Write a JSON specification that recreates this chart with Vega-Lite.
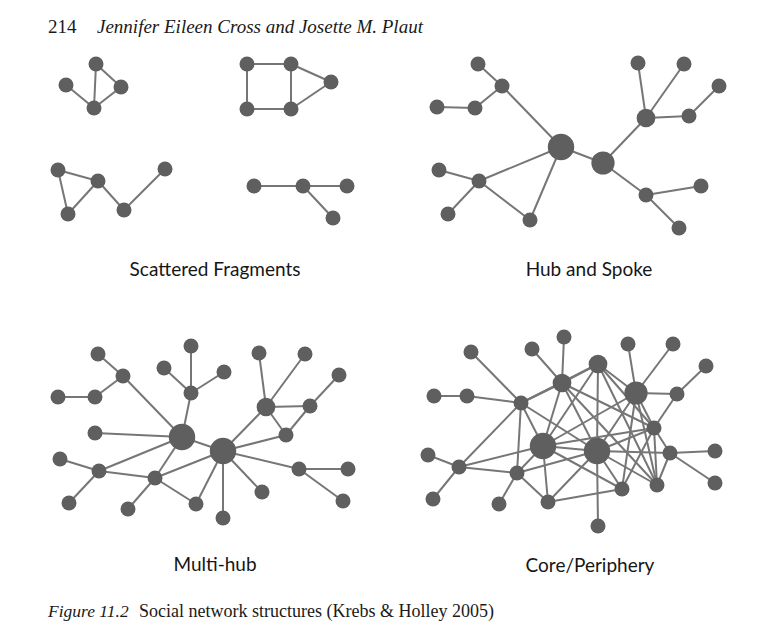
{
  "$schema": "https://vega.github.io/schema/vega-lite/v6.json",
  "width": 768,
  "height": 644,
  "autosize": {"type": "fit", "contains": "padding"},
  "padding": 0,
  "background": "white",
  "config": {"view": {"stroke": null}},
  "datasets": {
    "nodes": [
      {"id": "F1a", "x": 96, "y": 64, "tier": "node"},
      {"id": "F1b", "x": 66, "y": 85, "tier": "node"},
      {"id": "F1c", "x": 121, "y": 87, "tier": "node"},
      {"id": "F1d", "x": 94, "y": 108, "tier": "node"},
      {"id": "F2a", "x": 247, "y": 64, "tier": "node"},
      {"id": "F2b", "x": 291, "y": 64, "tier": "node"},
      {"id": "F2c", "x": 331, "y": 82, "tier": "node"},
      {"id": "F2d", "x": 247, "y": 109, "tier": "node"},
      {"id": "F2e", "x": 291, "y": 109, "tier": "node"},
      {"id": "F3a", "x": 58, "y": 170, "tier": "node"},
      {"id": "F3b", "x": 98, "y": 181, "tier": "node"},
      {"id": "F3c", "x": 68, "y": 214, "tier": "node"},
      {"id": "F3d", "x": 124, "y": 210, "tier": "node"},
      {"id": "F3e", "x": 165, "y": 169, "tier": "node"},
      {"id": "F4a", "x": 254, "y": 186, "tier": "node"},
      {"id": "F4b", "x": 303, "y": 186, "tier": "node"},
      {"id": "F4c", "x": 347, "y": 186, "tier": "node"},
      {"id": "F4d", "x": 333, "y": 218, "tier": "node"},

      {"id": "H1", "x": 561, "y": 147, "tier": "hub"},
      {"id": "H2", "x": 603, "y": 163, "tier": "hub2"},
      {"id": "Ha", "x": 478, "y": 64, "tier": "node"},
      {"id": "Hb", "x": 502, "y": 86, "tier": "node"},
      {"id": "Hc", "x": 437, "y": 107, "tier": "node"},
      {"id": "Hd", "x": 475, "y": 108, "tier": "node"},
      {"id": "He", "x": 439, "y": 170, "tier": "node"},
      {"id": "Hf", "x": 479, "y": 181, "tier": "node"},
      {"id": "Hg", "x": 448, "y": 214, "tier": "node"},
      {"id": "Hh", "x": 530, "y": 220, "tier": "node"},
      {"id": "Hi", "x": 638, "y": 63, "tier": "node"},
      {"id": "Hj", "x": 684, "y": 64, "tier": "node"},
      {"id": "Hk", "x": 719, "y": 86, "tier": "node"},
      {"id": "Hl", "x": 646, "y": 118, "tier": "mid"},
      {"id": "Hm", "x": 689, "y": 116, "tier": "node"},
      {"id": "Hn", "x": 646, "y": 195, "tier": "node"},
      {"id": "Ho", "x": 701, "y": 186, "tier": "node"},
      {"id": "Hp", "x": 679, "y": 228, "tier": "node"},

      {"id": "MH1", "x": 182, "y": 437, "tier": "hub"},
      {"id": "MH2", "x": 223, "y": 451, "tier": "hub"},
      {"id": "Ma", "x": 98, "y": 354, "tier": "node"},
      {"id": "Mb", "x": 123, "y": 376, "tier": "node"},
      {"id": "Mc", "x": 58, "y": 397, "tier": "node"},
      {"id": "Md", "x": 95, "y": 397, "tier": "node"},
      {"id": "Me", "x": 191, "y": 346, "tier": "node"},
      {"id": "Mf", "x": 164, "y": 368, "tier": "node"},
      {"id": "Mg", "x": 224, "y": 372, "tier": "node"},
      {"id": "Mh", "x": 191, "y": 393, "tier": "node"},
      {"id": "Mi", "x": 259, "y": 353, "tier": "node"},
      {"id": "Mj", "x": 305, "y": 354, "tier": "node"},
      {"id": "Mk", "x": 339, "y": 375, "tier": "node"},
      {"id": "Ml", "x": 266, "y": 407, "tier": "mid"},
      {"id": "Mm", "x": 310, "y": 406, "tier": "node"},
      {"id": "Mn", "x": 286, "y": 435, "tier": "node"},
      {"id": "Mo", "x": 95, "y": 433, "tier": "node"},
      {"id": "Mp", "x": 60, "y": 459, "tier": "node"},
      {"id": "Mq", "x": 99, "y": 471, "tier": "node"},
      {"id": "Mr", "x": 69, "y": 503, "tier": "node"},
      {"id": "Ms", "x": 155, "y": 478, "tier": "node"},
      {"id": "Mt", "x": 128, "y": 509, "tier": "node"},
      {"id": "Mu", "x": 196, "y": 504, "tier": "node"},
      {"id": "Mv", "x": 223, "y": 518, "tier": "node"},
      {"id": "Mw", "x": 262, "y": 492, "tier": "node"},
      {"id": "Mx", "x": 299, "y": 469, "tier": "node"},
      {"id": "My", "x": 348, "y": 469, "tier": "node"},
      {"id": "Mz", "x": 343, "y": 501, "tier": "node"},

      {"id": "C1", "x": 543, "y": 446, "tier": "hub"},
      {"id": "C2", "x": 597, "y": 451, "tier": "hub"},
      {"id": "C3", "x": 636, "y": 393, "tier": "hub2"},
      {"id": "C4", "x": 562, "y": 383, "tier": "mid"},
      {"id": "C5", "x": 598, "y": 364, "tier": "mid"},
      {"id": "CM1", "x": 521, "y": 403, "tier": "node"},
      {"id": "CM2", "x": 459, "y": 467, "tier": "node"},
      {"id": "CM3", "x": 517, "y": 473, "tier": "node"},
      {"id": "CM4", "x": 548, "y": 502, "tier": "node"},
      {"id": "CM5", "x": 622, "y": 489, "tier": "node"},
      {"id": "CM6", "x": 657, "y": 485, "tier": "node"},
      {"id": "CM7", "x": 654, "y": 428, "tier": "node"},
      {"id": "CM8", "x": 670, "y": 453, "tier": "node"},
      {"id": "CM9", "x": 677, "y": 394, "tier": "node"},
      {"id": "Cp1", "x": 471, "y": 352, "tier": "node"},
      {"id": "Cp2", "x": 532, "y": 349, "tier": "node"},
      {"id": "Cp3", "x": 564, "y": 337, "tier": "node"},
      {"id": "Cp4", "x": 628, "y": 344, "tier": "node"},
      {"id": "Cp5", "x": 673, "y": 344, "tier": "node"},
      {"id": "Cp6", "x": 706, "y": 366, "tier": "node"},
      {"id": "Cp7", "x": 434, "y": 396, "tier": "node"},
      {"id": "Cp8", "x": 467, "y": 396, "tier": "node"},
      {"id": "Cp9", "x": 428, "y": 455, "tier": "node"},
      {"id": "Cp10", "x": 433, "y": 499, "tier": "node"},
      {"id": "Cp11", "x": 499, "y": 504, "tier": "node"},
      {"id": "Cp12", "x": 598, "y": 526, "tier": "node"},
      {"id": "Cp13", "x": 715, "y": 451, "tier": "node"},
      {"id": "Cp14", "x": 715, "y": 483, "tier": "node"}
    ],
    "edges": [
      {"s": "F1a", "t": "F1d"}, {"s": "F1a", "t": "F1c"}, {"s": "F1c", "t": "F1d"}, {"s": "F1b", "t": "F1d"},
      {"s": "F2a", "t": "F2b"}, {"s": "F2a", "t": "F2d"}, {"s": "F2d", "t": "F2e"}, {"s": "F2b", "t": "F2e"},
      {"s": "F2b", "t": "F2c"}, {"s": "F2e", "t": "F2c"},
      {"s": "F3a", "t": "F3b"}, {"s": "F3a", "t": "F3c"}, {"s": "F3c", "t": "F3b"}, {"s": "F3b", "t": "F3d"},
      {"s": "F3d", "t": "F3e"},
      {"s": "F4a", "t": "F4b"}, {"s": "F4b", "t": "F4c"}, {"s": "F4b", "t": "F4d"},

      {"s": "Ha", "t": "Hb"}, {"s": "Hb", "t": "Hd"}, {"s": "Hc", "t": "Hd"}, {"s": "Hb", "t": "H1"},
      {"s": "H1", "t": "Hf"}, {"s": "H1", "t": "Hh"}, {"s": "Hf", "t": "He"}, {"s": "Hf", "t": "Hg"},
      {"s": "Hf", "t": "Hh"}, {"s": "H1", "t": "H2"}, {"s": "H2", "t": "Hl"}, {"s": "Hl", "t": "Hi"},
      {"s": "Hl", "t": "Hj"}, {"s": "Hl", "t": "Hm"}, {"s": "Hm", "t": "Hk"}, {"s": "H2", "t": "Hn"},
      {"s": "Hn", "t": "Ho"}, {"s": "Hn", "t": "Hp"},

      {"s": "Ma", "t": "Mb"}, {"s": "Mb", "t": "Md"}, {"s": "Mc", "t": "Md"}, {"s": "Mb", "t": "MH1"},
      {"s": "Me", "t": "Mh"}, {"s": "Mf", "t": "Mh"}, {"s": "Mg", "t": "Mh"}, {"s": "Mh", "t": "MH1"},
      {"s": "Mo", "t": "MH1"}, {"s": "MH1", "t": "Mq"}, {"s": "Mq", "t": "Mp"}, {"s": "Mq", "t": "Mr"},
      {"s": "Mq", "t": "Ms"}, {"s": "MH1", "t": "Ms"}, {"s": "Ms", "t": "Mt"}, {"s": "Ms", "t": "Mu"},
      {"s": "Ms", "t": "MH2"}, {"s": "MH1", "t": "MH2"}, {"s": "MH2", "t": "Mu"}, {"s": "MH2", "t": "Mv"},
      {"s": "MH2", "t": "Mw"}, {"s": "MH2", "t": "Mx"}, {"s": "Mx", "t": "My"}, {"s": "Mx", "t": "Mz"},
      {"s": "MH2", "t": "Ml"}, {"s": "MH2", "t": "Mn"}, {"s": "Ml", "t": "Mi"}, {"s": "Ml", "t": "Mj"},
      {"s": "Ml", "t": "Mm"}, {"s": "Mm", "t": "Mk"}, {"s": "Ml", "t": "Mn"}, {"s": "Mn", "t": "Mm"},

      {"s": "Cp1", "t": "CM1"}, {"s": "Cp7", "t": "Cp8"}, {"s": "Cp8", "t": "CM1"}, {"s": "Cp2", "t": "C4"},
      {"s": "Cp3", "t": "C4"}, {"s": "Cp4", "t": "C3"}, {"s": "Cp5", "t": "C3"}, {"s": "Cp6", "t": "CM9"},
      {"s": "CM9", "t": "C3"}, {"s": "Cp9", "t": "CM2"}, {"s": "Cp10", "t": "CM2"}, {"s": "CM2", "t": "CM1"},
      {"s": "CM2", "t": "C1"}, {"s": "CM2", "t": "CM3"}, {"s": "Cp11", "t": "CM3"}, {"s": "CM3", "t": "CM1"},
      {"s": "CM3", "t": "CM4"}, {"s": "CM3", "t": "C1"}, {"s": "CM3", "t": "C2"}, {"s": "CM4", "t": "C1"},
      {"s": "CM4", "t": "CM5"}, {"s": "CM4", "t": "C2"}, {"s": "CM1", "t": "C4"}, {"s": "CM1", "t": "C1"},
      {"s": "CM1", "t": "C2"}, {"s": "CM1", "t": "C5"}, {"s": "C4", "t": "C1"}, {"s": "C4", "t": "C5"},
      {"s": "C4", "t": "C2"}, {"s": "C4", "t": "CM7"}, {"s": "C4", "t": "CM6"}, {"s": "C5", "t": "C1"},
      {"s": "C5", "t": "C2"}, {"s": "C5", "t": "C3"}, {"s": "C5", "t": "CM7"}, {"s": "C5", "t": "CM6"},
      {"s": "C1", "t": "C2"}, {"s": "C1", "t": "C3"}, {"s": "C1", "t": "CM5"}, {"s": "C1", "t": "CM7"},
      {"s": "C2", "t": "C3"}, {"s": "C2", "t": "CM7"}, {"s": "C2", "t": "CM8"}, {"s": "C2", "t": "CM6"},
      {"s": "C2", "t": "CM5"}, {"s": "C2", "t": "Cp12"}, {"s": "C3", "t": "CM7"}, {"s": "C3", "t": "CM6"},
      {"s": "C3", "t": "CM5"}, {"s": "CM9", "t": "CM7"}, {"s": "CM7", "t": "CM6"}, {"s": "CM7", "t": "CM5"},
      {"s": "CM7", "t": "CM8"}, {"s": "CM8", "t": "Cp13"}, {"s": "CM8", "t": "Cp14"}, {"s": "CM8", "t": "CM6"}
    ],
    "labels": [
      {"text": "214", "x": 48, "y": 33, "kind": "serif"},
      {"text": "Jennifer Eileen Cross and Josette M. Plaut", "x": 97, "y": 33, "kind": "serifItalic"},
      {"text": "Scattered Fragments", "x": 215, "y": 270, "kind": "caption"},
      {"text": "Hub and Spoke", "x": 589, "y": 270, "kind": "caption"},
      {"text": "Multi-hub", "x": 215, "y": 565, "kind": "caption"},
      {"text": "Core/Periphery", "x": 590, "y": 566, "kind": "caption"},
      {"text": "Figure 11.2", "x": 48, "y": 617, "kind": "footItalic"},
      {"text": "Social network structures (Krebs & Holley 2005)", "x": 139, "y": 617, "kind": "foot"}
    ]
  },
  "encoding": {
    "x": {"field": "x", "type": "quantitative", "scale": {"domain": [0, 768], "nice": false, "zero": false}, "axis": null},
    "y": {"field": "y", "type": "quantitative", "scale": {"domain": [0, 644], "nice": false, "zero": false, "reverse": true}, "axis": null}
  },
  "layer": [
    {
      "data": {"name": "edges"},
      "transform": [
        {"lookup": "s", "from": {"data": {"name": "nodes"}, "key": "id", "fields": ["x", "y"]}},
        {"lookup": "t", "from": {"data": {"name": "nodes"}, "key": "id", "fields": ["x", "y"]}, "as": ["x2", "y2"]}
      ],
      "mark": {"type": "rule", "color": "#767676", "strokeWidth": 2},
      "encoding": {
        "x2": {"field": "x2"},
        "y2": {"field": "y2"}
      }
    },
    {
      "data": {"name": "nodes"},
      "transform": [{"filter": "datum.tier === 'node'"}],
      "mark": {"type": "circle", "color": "#5f5f5f", "opacity": 1, "size": 225}
    },
    {
      "data": {"name": "nodes"},
      "transform": [{"filter": "datum.tier === 'mid'"}],
      "mark": {"type": "circle", "color": "#5f5f5f", "opacity": 1, "size": 350}
    },
    {
      "data": {"name": "nodes"},
      "transform": [{"filter": "datum.tier === 'hub2'"}],
      "mark": {"type": "circle", "color": "#5f5f5f", "opacity": 1, "size": 540}
    },
    {
      "data": {"name": "nodes"},
      "transform": [{"filter": "datum.tier === 'hub'"}],
      "mark": {"type": "circle", "color": "#5f5f5f", "opacity": 1, "size": 700}
    },
    {
      "data": {"name": "labels"},
      "transform": [{"filter": "datum.kind === 'caption'"}],
      "mark": {"type": "text", "font": "Lato", "fontSize": 19, "align": "center", "baseline": "middle", "color": "#161616"},
      "encoding": {"text": {"field": "text"}}
    },
    {
      "data": {"name": "labels"},
      "transform": [{"filter": "datum.kind === 'serif'"}],
      "mark": {"type": "text", "font": "Liberation Serif", "fontSize": 19, "align": "left", "baseline": "alphabetic", "color": "#1a1a1a"},
      "encoding": {"text": {"field": "text"}}
    },
    {
      "data": {"name": "labels"},
      "transform": [{"filter": "datum.kind === 'serifItalic'"}],
      "mark": {"type": "text", "font": "Liberation Serif", "fontStyle": "italic", "fontSize": 19, "align": "left", "baseline": "alphabetic", "color": "#1a1a1a"},
      "encoding": {"text": {"field": "text"}}
    },
    {
      "data": {"name": "labels"},
      "transform": [{"filter": "datum.kind === 'footItalic'"}],
      "mark": {"type": "text", "font": "Liberation Serif", "fontStyle": "italic", "fontSize": 17.5, "align": "left", "baseline": "alphabetic", "color": "#1a1a1a"},
      "encoding": {"text": {"field": "text"}}
    },
    {
      "data": {"name": "labels"},
      "transform": [{"filter": "datum.kind === 'foot'"}],
      "mark": {"type": "text", "font": "Liberation Serif", "fontSize": 18, "align": "left", "baseline": "alphabetic", "color": "#1a1a1a"},
      "encoding": {"text": {"field": "text"}}
    }
  ]
}
